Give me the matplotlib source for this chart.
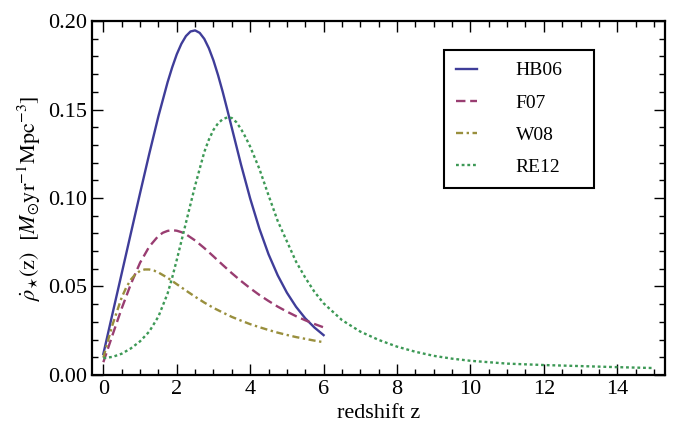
import matplotlib.pyplot as plt
import numpy as np

plt.rcParams['font.family'] = ['Liberation Serif', 'DejaVu Serif']
plt.rcParams['mathtext.fontset'] = 'stix'

# HB06 (z from 0 to 6)
z_hb06 = [0.0, 0.25, 0.5, 0.75, 1.0, 1.25, 1.5, 1.75, 1.875, 2.0, 2.125, 2.25,
          2.375, 2.5, 2.625, 2.75, 2.875, 3.0, 3.125, 3.25, 3.375, 3.5, 3.75,
          4.0, 4.25, 4.5, 4.75, 5.0, 5.25, 5.5, 5.75, 6.0]
hb06 = [0.0119, 0.0347, 0.0574, 0.0801, 0.1027, 0.1249, 0.1462, 0.1654, 0.1738,
        0.1812, 0.1871, 0.1915, 0.1941, 0.1947, 0.1933, 0.1899, 0.1846, 0.1777,
        0.1694, 0.1601, 0.1500, 0.1396, 0.1189, 0.0997, 0.0827, 0.0682, 0.0563,
        0.0465, 0.0385, 0.0320, 0.0268, 0.0225]

# F07
z_f07 = [0.0, 0.125, 0.25, 0.5, 0.75, 1.0, 1.25, 1.5, 1.625, 1.75, 1.875, 2.0,
         2.125, 2.25, 2.5, 2.75, 3.0, 3.25, 3.5, 3.75, 4.0, 4.25, 4.5, 4.75,
         5.0, 5.25, 5.5, 5.75, 6.0]
f07 = [0.0072, 0.0149, 0.0226, 0.0376, 0.0514, 0.0634, 0.0725, 0.0786, 0.0804,
       0.0814, 0.0818, 0.0815, 0.0807, 0.0795, 0.0760, 0.0717, 0.0670, 0.0622,
       0.0575, 0.0531, 0.0490, 0.0452, 0.0418, 0.0386, 0.0358, 0.0332, 0.0309,
       0.0288, 0.0269]

# W08
z_w08 = [0.0, 0.125, 0.25, 0.5, 0.625, 0.75, 0.875, 1.0, 1.125, 1.25, 1.375,
         1.5, 1.75, 2.0, 2.25, 2.5, 2.75, 3.0, 3.25, 3.5, 3.75, 4.0, 4.25, 4.5,
         4.75, 5.0, 5.25, 5.5, 5.75, 6.0]
w08 = [0.0098, 0.0193, 0.0284, 0.0438, 0.0495, 0.0539, 0.0569, 0.0588, 0.0596,
       0.0596, 0.0590, 0.0579, 0.0549, 0.0513, 0.0477, 0.0442, 0.0409, 0.0379,
       0.0353, 0.0328, 0.0307, 0.0287, 0.0270, 0.0254, 0.0239, 0.0226, 0.0214,
       0.0204, 0.0194, 0.0185]

# RE12 extends to z = 15
z_re12 = [0.0, 0.25, 0.5, 0.75, 1.0, 1.25, 1.5, 1.75, 1.875, 2.0, 2.25, 2.5,
          2.75, 2.875, 3.0, 3.125, 3.25, 3.375, 3.5, 3.625, 3.75, 3.875, 4.0,
          4.25, 4.5, 4.75, 5.0, 5.25, 5.5, 5.75, 6.0, 6.5, 7.0, 7.5, 8.0, 8.5,
          9.0, 9.5, 10.0, 11.0, 12.0, 13.0, 14.0, 15.0]
re12 = [0.0095, 0.0102, 0.0120, 0.0150, 0.0190, 0.0245, 0.0330, 0.0460, 0.0550,
        0.0650, 0.0860, 0.1070, 0.1260, 0.1330, 0.1385, 0.1422, 0.1445, 0.1455,
        0.1452, 0.1428, 0.1390, 0.1343, 0.1290, 0.1165, 0.1015, 0.0870, 0.0755,
        0.0640, 0.0550, 0.0470, 0.0405, 0.0310, 0.0245, 0.0198, 0.0160, 0.0131,
        0.0108, 0.0092, 0.0080, 0.0064, 0.0056, 0.0050, 0.0044, 0.0039]

fig = plt.figure(figsize=(6.74, 4.29), dpi=100)
ax = fig.add_axes([0.137, 0.126, 0.8496, 0.825])

lw = 1.7
ax.plot(z_hb06, hb06, color='#3F3D99', lw=lw, label='HB06')
ax.plot(z_f07, f07, color='#993D71', lw=lw, dashes=(4, 2), label='F07')
ax.plot(z_w08, w08, color='#998F3D', lw=lw, dashes=(3, 1.5, 1, 1.5), label='W08')
ax.plot(z_re12, re12, color='#3D9956', lw=lw, dashes=(1.2, 1.2), label='RE12')

ax.set_xlim(-0.3, 15.3)
ax.set_ylim(0, 0.2)
ax.set_xticks(np.arange(0, 15, 2))
ax.set_xticks(np.arange(0, 15.01, 0.5), minor=True)
ax.set_yticks([0.0, 0.05, 0.10, 0.15, 0.20])
ax.set_yticklabels(['0.00', '0.05', '0.10', '0.15', '0.20'])
ax.set_yticks(np.arange(0, 0.2001, 0.01), minor=True)
ax.tick_params(which='both', direction='in', top=True, right=True, labelsize=16, width=1)
ax.tick_params(which='major', length=8)
ax.tick_params(which='minor', length=4)
for s in ax.spines.values():
    s.set_linewidth(1.6)

ax.set_xlabel('redshift z', fontsize=16)
ax.set_ylabel(r'$\dot{\rho}_{\star}(\mathrm{z})$  $[M_{\odot}\mathrm{yr}^{-1}\mathrm{Mpc}^{-3}]$', fontsize=16)

leg = ax.legend(loc='upper left', bbox_to_anchor=(0.614, 0.528, 0.262, 0.39),
                mode='expand', borderaxespad=0, fontsize=14,
                fancybox=False, framealpha=1, edgecolor='black',
                handlelength=1.1, handletextpad=2.0, labelspacing=0.75,
                borderpad=0.6)
leg.get_frame().set_linewidth(1.5)

fig.savefig('out.png', dpi=100)
